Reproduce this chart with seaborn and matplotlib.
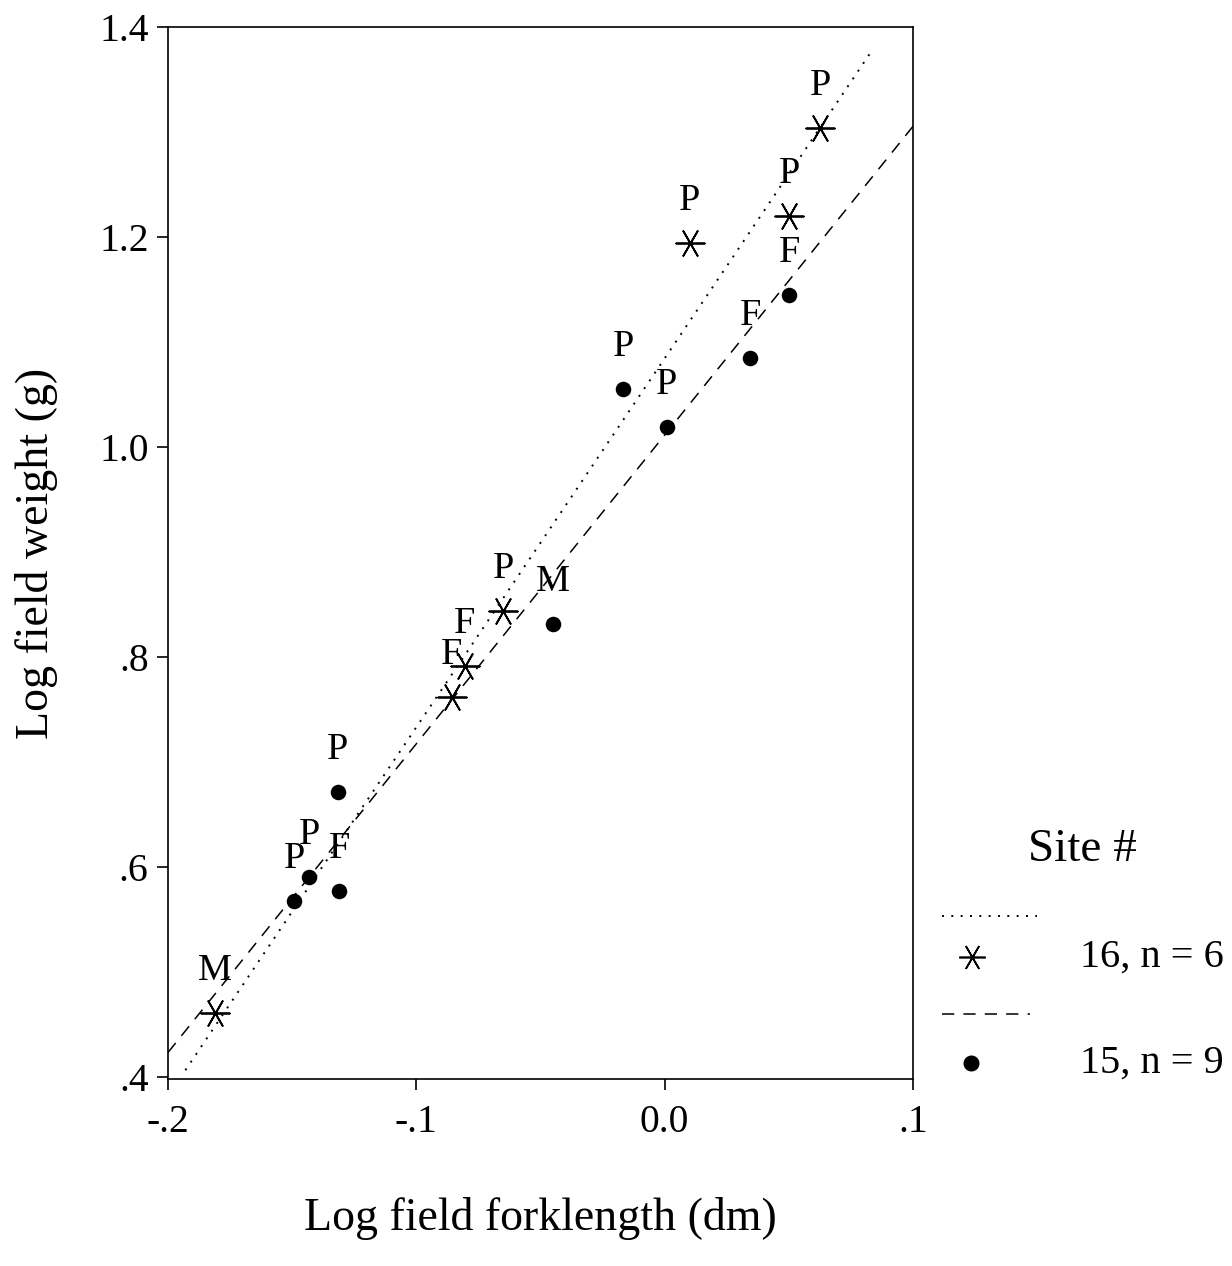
import numpy as np
import pandas as pd
import matplotlib
matplotlib.use("Agg")
import matplotlib.pyplot as plt
from matplotlib.lines import Line2D
import seaborn as sns

# ---------------- data ----------------
site16_x = [0.0102, 0.0626, 0.0501, -0.0649, -0.0804, -0.0857, -0.1811]
site16_y = [1.194, 1.3035, 1.220, 0.8438, 0.7911, 0.7619, 0.4604]
site16_lab = ["P", "P", "P", "P", "F", "F", "M"]

site15_x = [0.0501, 0.0344, -0.0166, 0.0008, -0.0449, -0.1317, -0.1310, -0.1431, -0.1491]
site15_y = [1.1445, 1.0845, 1.0550, 1.0190, 0.8311, 0.6714, 0.5771, 0.5905, 0.5673]
site15_lab = ["F", "F", "P", "P", "M", "P", "F", "P", "P"]

fit16_xrange = [-0.193, 0.084]
fit15_xrange = [-0.200, 0.100]

xticks = [-0.2, -0.1, 0.0, 0.1]
xtick_labels = ["-.2", "-.1", "0.0", ".1"]
yticks = [0.4, 0.6, 0.8, 1.0, 1.2, 1.4]
ytick_labels = [".4", ".6", ".8", "1.0", "1.2", "1.4"]

legend_title = "Site #"
legend_labels = ["16, n = 6", "15, n = 9"]

# ---------------- style ----------------
sns.set_theme(style="ticks")
plt.rcParams["font.family"] = ["Liberation Serif", "DejaVu Serif"]
plt.rcParams["text.color"] = "black"
plt.rcParams["axes.labelcolor"] = "black"
plt.rcParams["xtick.color"] = "black"
plt.rcParams["ytick.color"] = "black"

W, H = 1232, 1266
fig = plt.figure(figsize=(W / 100, H / 100), dpi=100)
ax = fig.add_axes([168 / W, 1 - 1079 / H, 745 / W, 1052 / H])

star = (6, 2, 30)

df16 = pd.DataFrame({"x": site16_x, "y": site16_y})
df15 = pd.DataFrame({"x": site15_x, "y": site15_y})

sns.scatterplot(data=df16, x="x", y="y", marker=star, s=420, color="black",
                linewidth=1.3, ax=ax, zorder=3)
sns.scatterplot(data=df15, x="x", y="y", marker="o", s=125, color="black",
                edgecolor="black", linewidth=0, ax=ax, zorder=3)

# regression lines
b16 = np.polyfit(site16_x, site16_y, 1)
b15 = np.polyfit(site15_x, site15_y, 1)
xs16 = np.array(fit16_xrange)
xs15 = np.array(fit15_xrange)
ax.plot(xs16, np.polyval(b16, xs16), color="black", lw=1.4, linestyle=(0, (1.0, 3.8)))
ax.plot(xs15, np.polyval(b15, xs15), color="black", lw=1.1, linestyle=(0, (8, 6)))

# point labels
for xv, yv, lab in list(zip(site16_x, site16_y, site16_lab)) + list(zip(site15_x, site15_y, site15_lab)):
    ax.annotate(lab, (xv, yv), xytext=(0, 30.5), textcoords="offset points",
                ha="center", va="center", fontsize=27.5, color="black", zorder=4)

ax.set_xlim(-0.2, 0.1)
ax.set_ylim(0.398, 1.4)
ax.set_xticks(xticks)
ax.set_xticklabels(xtick_labels)
ax.set_yticks(yticks)
ax.set_yticklabels(ytick_labels)
ax.tick_params(axis="both", direction="out", length=8, width=1.2, labelsize=28.5,
               color="black", labelcolor="black")
ax.tick_params(axis="x", pad=10)
ax.tick_params(axis="y", pad=6)
for sp in ax.spines.values():
    sp.set_visible(True)
    sp.set_color("black")
    sp.set_linewidth(1.2)

ax.set_xlabel("Log field forklength (dm)", fontsize=33, color="black")
ax.set_ylabel("Log field weight (g)", fontsize=33, color="black")
ax.xaxis.set_label_coords(0.5, -0.112)
ax.yaxis.set_label_coords(-0.148, 0.5)

# ---------------- legend (outside, right) ----------------
def fx(px):
    return px / W

def fy(py):
    return 1 - py / H

fig.text(fx(1082), fy(850), legend_title, fontsize=34, ha="center", va="center", color="black")
fig.add_artist(Line2D([fx(942), fx(1037)], [fy(916), fy(916)], color="black", lw=1.4,
                      linestyle=(0, (1.0, 3.8)), transform=fig.transFigure))
fig.add_artist(Line2D([fx(972)], [fy(957)], marker=star, markersize=19, color="black",
                      markeredgewidth=1.2, linestyle="none", transform=fig.transFigure))
fig.text(fx(1080), fy(957), legend_labels[0], fontsize=29, ha="left", va="center", color="black")
fig.add_artist(Line2D([fx(942), fx(1030)], [fy(1014), fy(1014)], color="black", lw=1.1,
                      linestyle=(0, (8, 6)), transform=fig.transFigure))
fig.add_artist(Line2D([fx(971)], [fy(1063)], marker="o", markersize=10.5, color="black",
                      linestyle="none", transform=fig.transFigure))
fig.text(fx(1080), fy(1063), legend_labels[1], fontsize=29, ha="left", va="center", color="black")

fig.savefig("out.png", dpi=100, facecolor="white")
